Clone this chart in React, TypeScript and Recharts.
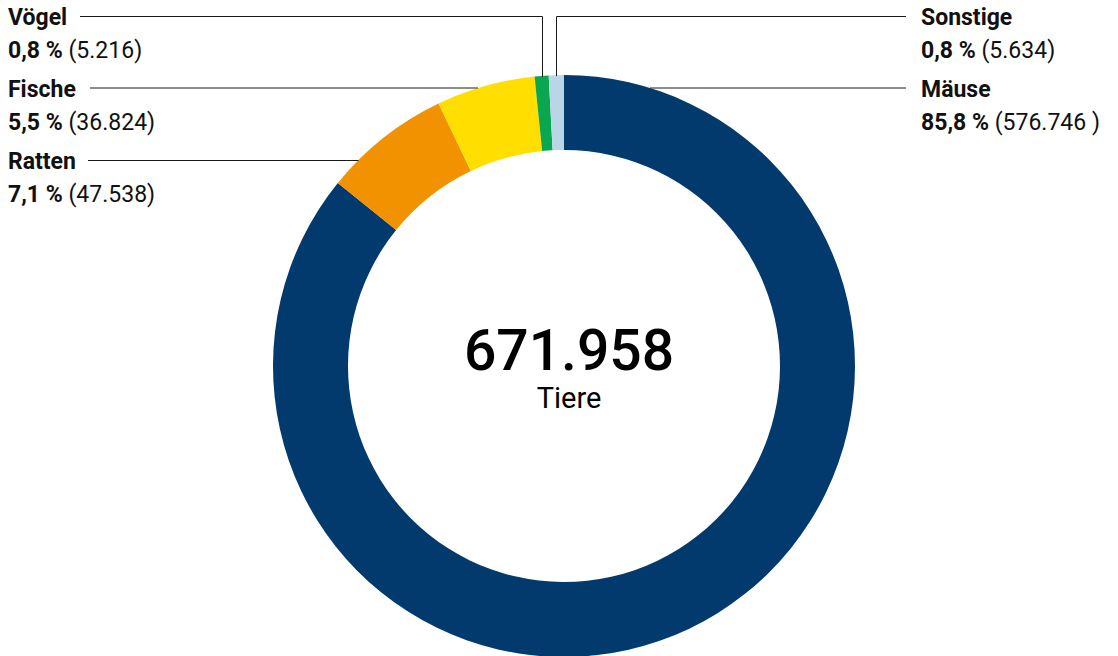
import React from "react";
import { PieChart, Pie, Cell } from "recharts";

const categories = ["Mäuse", "Ratten", "Fische", "Vögel", "Sonstige"];
const values = [576746, 47538, 36824, 5216, 5634];
const percentLabels = ["85,8 %", "7,1 %", "5,5 %", "0,8 %", "0,8 %"];
const countLabels = ["(576.746 )", "(47.538)", "(36.824)", "(5.216)", "(5.634)"];
const colors = ["#023a6e", "#f39200", "#ffde00", "#0aa650", "#b9d6e8"];
const centerUnit = "Tiere";

const data = categories.map((name, i) => ({ name, value: values[i] }));
const total = values.reduce((a, b) => a + b, 0);
const fmt = (n: number) => String(n).replace(/\B(?=(\d{3})+(?!\d))/g, ".");

// label layout: side, line y, line start (left) or end (right), type
const layout: Record<number, { side: "left" | "right"; y: number; lineX: number; type: "h" | "elbow"; crisp: boolean }> = {
  0: { side: "right", y: 88, lineX: 906, type: "h", crisp: false },
  1: { side: "left", y: 160, lineX: 88, type: "h", crisp: true },
  2: { side: "left", y: 88, lineX: 90, type: "h", crisp: false },
  3: { side: "left", y: 16, lineX: 80, type: "elbow", crisp: true },
  4: { side: "right", y: 16, lineX: 906, type: "elbow", crisp: true },
};

const W = 1118;
const H = 656;
const CX = 564;
const CY = 366;
const OUTER = 291;
const INNER = 216;
const RAD = Math.PI / 180;
const FONT = "Roboto, 'Noto Sans', sans-serif";

const renderLabel = (props: any) => {
  const { cx, cy, midAngle, outerRadius, index } = props;
  const l = layout[index];
  if (!l) return null;
  const ly = l.crisp ? l.y + 0.5 : l.y;
  let path = "";
  if (l.type === "h") {
    const dy = cy - l.y;
    const dx = Math.sqrt(Math.max(0, outerRadius * outerRadius - dy * dy));
    const ax = l.side === "left" ? cx - dx : cx + dx;
    path = `M${l.lineX},${ly} L${ax},${ly}`;
  } else {
    const x = Math.round(cx + outerRadius * Math.cos(-midAngle * RAD)) + 0.5;
    const ay = cy + outerRadius * Math.sin(-midAngle * RAD);
    path = `M${l.lineX},${ly} L${x},${ly} L${x},${ay + 1}`;
  }
  const tx = l.side === "left" ? 8 : 921;
  return (
    <g key={`lbl-${index}`}>
      <path d={path} stroke="#1a1a1a" strokeWidth={1} fill="none" />
      <text x={tx} y={l.y + 9} fontFamily={FONT} fontSize={23} fontWeight={700} fill="#111">
        {categories[index]}
      </text>
      <text x={tx} y={l.y + 42} fontFamily={FONT} fontSize={23} fill="#111">
        <tspan fontWeight={700}>{percentLabels[index]}</tspan>
        <tspan> {countLabels[index]}</tspan>
      </text>
    </g>
  );
};

export default function App() {
  return (
    <div style={{ position: "absolute", left: 0, top: 0, width: W, height: H, overflow: "hidden" }}>
      <PieChart width={W} height={H} margin={{ top: 0, right: 0, bottom: 0, left: 0 }}>
        <Pie
          data={data}
          dataKey="value"
          nameKey="name"
          cx={CX}
          cy={CY}
          innerRadius={INNER}
          outerRadius={OUTER}
          startAngle={90}
          endAngle={-270}
          stroke="none"
          isAnimationActive={false}
          label={renderLabel}
          labelLine={false}
        >
          {data.map((d, i) => (
            <Cell key={d.name} fill={colors[i]} stroke="none" />
          ))}
        </Pie>
        <text x={CX + 5} y={370} textAnchor="middle" fontFamily={FONT} fontSize={57} fontWeight={500} fill="#000">
          {fmt(total)}
        </text>
        <text x={CX + 5} y={408} textAnchor="middle" fontFamily={FONT} fontSize={29} fill="#000">
          {centerUnit}
        </text>
      </PieChart>
    </div>
  );
}
